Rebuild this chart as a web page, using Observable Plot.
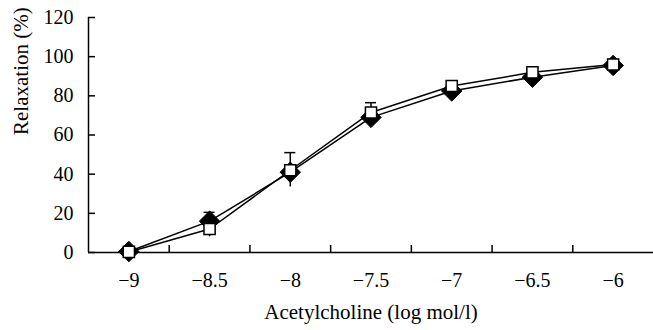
<!DOCTYPE html>
<html>
<head>
<meta charset="utf-8">
<script src="https://cdn.jsdelivr.net/npm/d3@7"></script>
<script src="https://cdn.jsdelivr.net/npm/@observablehq/plot@0.6"></script>
<style>
  html, body { margin: 0; padding: 0; background: #fff; }
</style>
</head>
<body>
<div id="chart"></div>
<script>
// Concentrations (log mol/l)
const conc = [-9, -8.5, -8, -7.5, -7, -6.5, -6];
// Series 1: filled diamonds
const diamondValues = [0.5, 16, 41, 69, 82.5, 89.5, 95.5];
const diamondErrUp = [0, 4.5, 0, 0, 0, 0, 0];
const diamondErrDown = [0, 0, 7.5, 0, 0, 0, 0];
// Series 2: open squares
const squareValues = [0.3, 12, 42, 71.5, 85, 92, 96];
const squareErrUp = [0, 0, 9, 5, 0, 0, 0];
const squareErrDown = [0, 4, 0, 0, 0, 0, 0];
// Axis ticks
const xTicks = [-9, -8.5, -8, -7.5, -7, -6.5, -6];
const xBoundaries = [-8.75, -8.25, -7.75, -7.25, -6.75, -6.25];
const yTicks = [0, 20, 40, 60, 80, 100, 120];

const diamonds = conc.map((x, i) => ({x, y: diamondValues[i], up: diamondErrUp[i], down: diamondErrDown[i]}));
const squares = conc.map((x, i) => ({x, y: squareValues[i], up: squareErrUp[i], down: squareErrDown[i]}));
const all = [...diamonds, ...squares];
const ups = all.filter(d => d.up > 0);
const downs = all.filter(d => d.down > 0);

const fmt = d => d < 0 ? "\u2212" + String(-d) : String(d);
const serif = "serif";

const chart = Plot.plot({
  width: 653,
  height: 330,
  marginLeft: 88,
  marginRight: 0,
  marginTop: 17,
  marginBottom: 78,
  style: {fontFamily: serif, fontSize: "20px"},
  x: {domain: [-9.25, -5.75]},
  y: {domain: [0, 120]},
  marks: [
    Plot.axisY(yTicks, {tickSize: 0, tickPadding: 15, label: null, tickFormat: fmt, fontSize: 20, fontFamily: serif}),
    Plot.axisY(yTicks, {tickSize: 7, dx: 7, tickFormat: () => "", label: null, strokeWidth: 1.5}),
    Plot.axisX(xTicks, {tickSize: 0, tickPadding: 20, label: null, tickFormat: fmt, fontSize: 20, fontFamily: serif}),
    Plot.axisX(xBoundaries, {tickSize: 7, dy: -7, tickFormat: () => "", label: null, strokeWidth: 1.5}),
    Plot.ruleX([-9.25], {stroke: "black", strokeWidth: 1.5}),
    Plot.ruleY([0], {stroke: "black", strokeWidth: 1.5}),
    Plot.text(["Acetylcholine (log mol/l)"], {frameAnchor: "bottom", dy: 66, fontSize: 21, fontFamily: serif}),
    Plot.text(["Relaxation (%)"], {frameAnchor: "left", dx: -67, rotate: -90, fontSize: 21, fontFamily: serif}),
    Plot.line(diamonds, {x: "x", y: "y", stroke: "black", strokeWidth: 1.5}),
    Plot.line(squares, {x: "x", y: "y", stroke: "black", strokeWidth: 1.5}),
    Plot.ruleX(ups, {x: "x", y1: "y", y2: d => d.y + d.up, stroke: "black", strokeWidth: 1.5}),
    Plot.ruleY(ups, {y: d => d.y + d.up, x1: "x", x2: "x", insetLeft: -5.5, insetRight: -5.5, stroke: "black", strokeWidth: 1.5}),
    Plot.ruleX(downs, {x: "x", y1: "y", y2: d => d.y - d.down, stroke: "black", strokeWidth: 1.5}),
    Plot.dot(diamonds, {x: "x", y: "y", symbol: "diamond2", r: 9.2, fill: "black", stroke: "black", strokeWidth: 1}),
    Plot.dot(squares, {x: "x", y: "y", symbol: "square", r: 6.3, fill: "white", stroke: "black", strokeWidth: 1.5})
  ]
});
document.getElementById("chart").appendChild(chart);
</script>
</body>
</html>
